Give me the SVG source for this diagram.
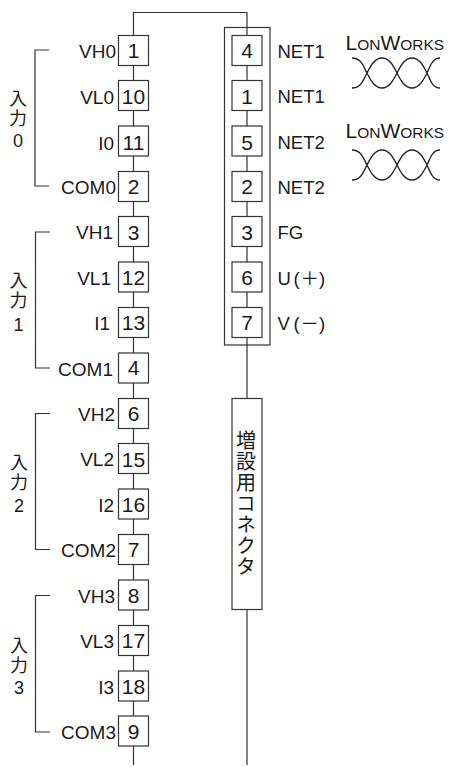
<svg xmlns="http://www.w3.org/2000/svg" width="449" height="767" viewBox="0 0 449 767">
<style>
text{font-family:"Liberation Sans",Arial,"Noto Sans CJK JP",sans-serif;fill:#1a1a1a}
.n{font-size:21px;text-anchor:middle}
.l{font-size:19px;text-anchor:end}
.r{font-size:18.500px}
.g{font-size:18px;text-anchor:middle}
.j{font-size:18px;font-family:"Noto Sans CJK JP",sans-serif;writing-mode:vertical-rl;text-orientation:upright;letter-spacing:2px}
.c{font-size:20px;font-family:"Noto Sans CJK JP",sans-serif;writing-mode:vertical-rl;text-orientation:upright;letter-spacing:1.100px}
.q{font-size:21px}
.s{font-size:15.500px}
.b{fill:#fff;stroke:#333;stroke-width:1.2}
.w{fill:none;stroke:#333;stroke-width:1.2}
.t{fill:none;stroke:#222;stroke-width:1.3}
</style>
<defs>
<path id="tw" class="t" d="M352 58C362 58 364 68 367 73C371 81 375 88 382 88C389 88 393 81 397 73C401 65 405 58 412 58C419 58 423 65 427 73C430 79 432 88 440 88M352 88C362 88 364 78 367 73C371 65 375 58 382 58C389 58 393 65 397 73C401 81 405 88 412 88C419 88 423 81 427 73C430 67 432 58 440 58"/>
</defs>
<g id="connectors">
<path class="w" d="M133.500 36V12.500H247V398M133.500 36V765M247 610V765"/>
<path class="w" d="M49 50H35V186H49M50 232H35.500V368H50M50 413.500H35.500V549.500H50M50 595.500H35.500V732H50"/>
</g>
<g id="frame"><rect class="w" x="224.500" y="27.500" width="45.500" height="317.500"/></g>
<g id="left-terminals">
<g id="t1"><rect class="b" x="118.500" y="35.500" width="30" height="30"/><text class="n" x="133.500" y="58">1</text><text class="l" x="116" y="58">VH0</text></g>
<g id="t10"><rect class="b" x="118.500" y="80.500" width="30" height="30"/><text class="n" x="133.500" y="104">10</text><text class="l" x="114" y="104">VL0</text></g>
<g id="t11"><rect class="b" x="118.500" y="126" width="30" height="30"/><text class="n" x="133.500" y="149.500">11</text><text class="l" x="114" y="149.500">I0</text></g>
<g id="t2"><rect class="b" x="118.500" y="171.500" width="30" height="30"/><text class="n" x="133.500" y="194">2</text><text class="l" x="116" y="194">COM0</text></g>
<g id="t3"><rect class="b" x="118.500" y="216.500" width="30" height="30"/><text class="n" x="133.500" y="239.500">3</text><text class="l" x="113" y="238.500">VH1</text></g>
<g id="t12"><rect class="b" x="118.500" y="262" width="30" height="30"/><text class="n" x="133.500" y="285">12</text><text class="l" x="111" y="285">VL1</text></g>
<g id="t13"><rect class="b" x="118.500" y="307.500" width="30" height="30"/><text class="n" x="133.500" y="330">13</text><text class="l" x="110" y="330">I1</text></g>
<g id="t4"><rect class="b" x="118.500" y="353" width="30" height="30"/><text class="n" x="133.500" y="375">4</text><text class="l" x="113" y="375.500">COM1</text></g>
<g id="t6"><rect class="b" x="118.500" y="398.500" width="30" height="30"/><text class="n" x="133.500" y="421">6</text><text class="l" x="115" y="421">VH2</text></g>
<g id="t15"><rect class="b" x="118.500" y="443.500" width="30" height="30"/><text class="n" x="133.500" y="466.500">15</text><text class="l" x="114" y="466">VL2</text></g>
<g id="t16"><rect class="b" x="118.500" y="489" width="30" height="30"/><text class="n" x="133.500" y="511.500">16</text><text class="l" x="114" y="511.500">I2</text></g>
<g id="t7"><rect class="b" x="118.500" y="534.500" width="30" height="30"/><text class="n" x="133.500" y="556.500">7</text><text class="l" x="116" y="557">COM2</text></g>
<g id="t8"><rect class="b" x="118.500" y="580" width="30" height="30"/><text class="n" x="133.500" y="602.500">8</text><text class="l" x="115" y="602.500">VH3</text></g>
<g id="t17"><rect class="b" x="118.500" y="625.500" width="30" height="30"/><text class="n" x="133.500" y="648">17</text><text class="l" x="114" y="648">VL3</text></g>
<g id="t18"><rect class="b" x="118.500" y="671" width="30" height="30"/><text class="n" x="133.500" y="694">18</text><text class="l" x="114" y="694">I3</text></g>
<g id="t9"><rect class="b" x="118.500" y="716" width="30" height="30"/><text class="n" x="133.500" y="739">9</text><text class="l" x="116" y="739">COM3</text></g>
</g>
<g id="right-terminals">
<g id="r4"><rect class="b" x="232" y="35.500" width="30" height="30"/><text class="n" x="247" y="58">4</text><text class="r" x="277.500" y="57.500">NET1</text></g>
<g id="r1"><rect class="b" x="232" y="80.500" width="30" height="30"/><text class="n" x="247" y="104">1</text><text class="r" x="277.500" y="103">NET1</text></g>
<g id="r5"><rect class="b" x="232" y="126" width="30" height="30"/><text class="n" x="247" y="149.500">5</text><text class="r" x="277.500" y="148.500">NET2</text></g>
<g id="r2"><rect class="b" x="232" y="171.500" width="30" height="30"/><text class="n" x="247" y="194">2</text><text class="r" x="277.500" y="193.500">NET2</text></g>
<g id="r3"><rect class="b" x="232" y="216.500" width="30" height="30"/><text class="n" x="247" y="239.500">3</text><text class="r" x="277.500" y="239">FG</text></g>
<g id="r6"><rect class="b" x="232" y="262" width="30" height="30"/><text class="n" x="247" y="285">6</text><text class="r" x="277.500" y="284.500">U<tspan x="293.500">(</tspan><tspan x="300.500">＋</tspan><tspan x="319">)</tspan></text></g>
<g id="r7"><rect class="b" x="232" y="307.500" width="30" height="30"/><text class="n" x="247" y="330">7</text><text class="r" x="277.500" y="330">V<tspan x="293.500">(</tspan><tspan x="300.500">－</tspan><tspan x="319">)</tspan></text></g>
</g>
<g id="group-labels">
<g id="in0"><text class="j" x="18" y="89.500">入力</text><text class="g" x="18" y="147">0</text></g>
<g id="in1"><text class="j" x="18.500" y="271.500">入力</text><text class="g" x="18.500" y="331">1</text></g>
<g id="in2"><text class="j" x="19" y="453.500">入力</text><text class="g" x="19" y="512">2</text></g>
<g id="in3"><text class="j" x="19" y="636">入力</text><text class="g" x="19" y="694">3</text></g>
</g>
<g id="expansion"><rect class="b" x="232" y="398.500" width="30" height="211"/>
<text class="c" x="246" y="430">増設用コネクタ</text></g>
<g id="lon1"><text class="q" x="345.500" y="50">L<tspan class="s">ON</tspan>W<tspan class="s">ORKS</tspan></text><use href="#tw"/></g>
<g id="lon2"><text class="q" x="345.500" y="138">L<tspan class="s">ON</tspan>W<tspan class="s">ORKS</tspan></text><use href="#tw" y="92"/></g>
</svg>
